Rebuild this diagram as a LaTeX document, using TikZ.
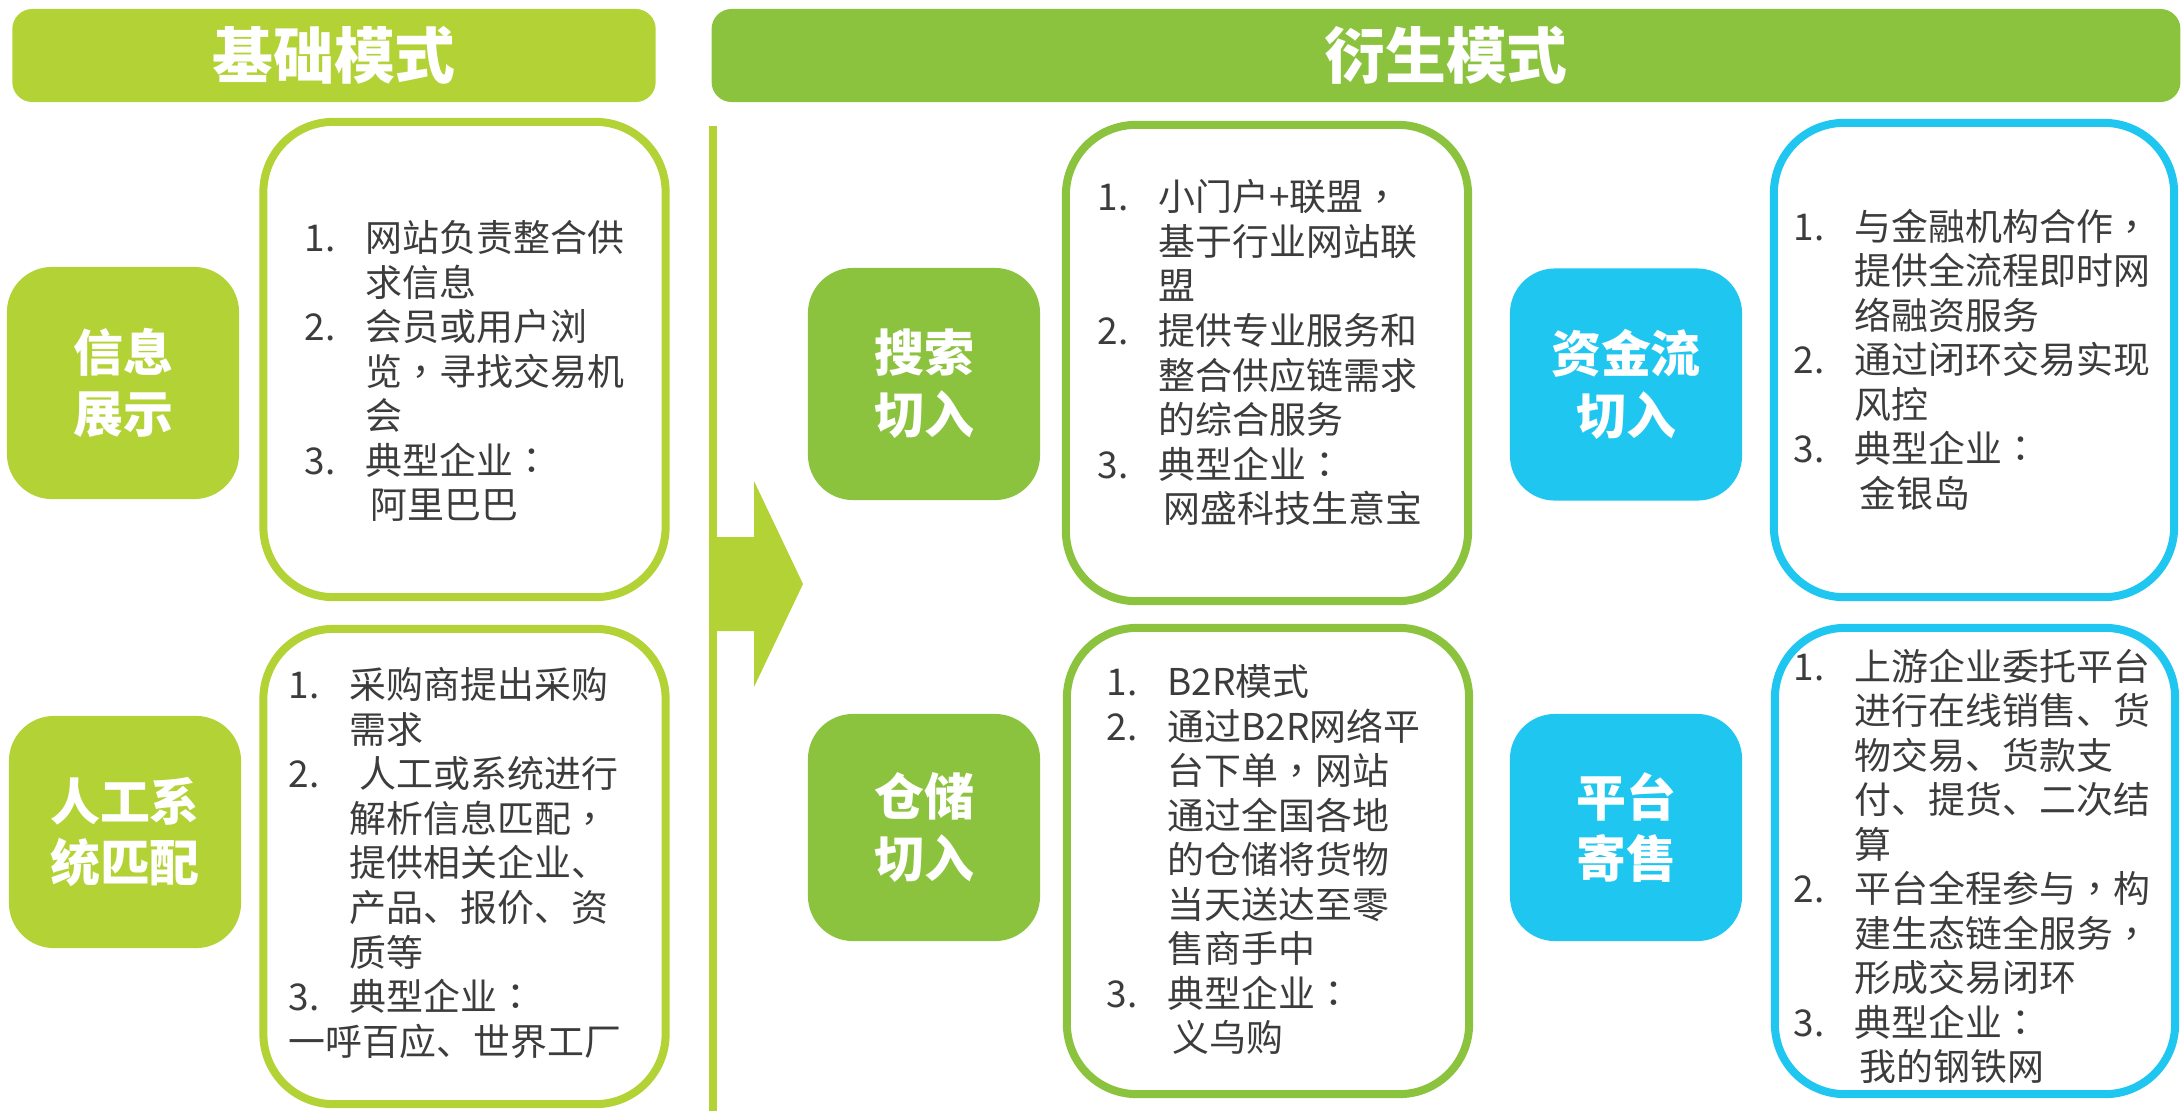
\documentclass[tikz,border=0pt]{standalone}
\usepackage{fontspec}
\setmainfont{Noto Sans CJK SC}
\newfontfamily\tcpunct{Noto Sans CJK TC}
\definecolor{yellowgreen}{HTML}{B2D235}
\definecolor{leafgreen}{HTML}{8BC33F}
\definecolor{skyblue}{HTML}{1FC6F0}
\definecolor{textgray}{HTML}{3C3C3C}
\newcommand{\itemno}[1]{\makebox[0.61cm][l]{#1}}
\newcommand{\goon}{\hspace*{0.61cm}}
\newcommand{\dou}{{\tcpunct ，}}
\newcommand{\mao}{{\tcpunct ：}}
\begin{document}
\begin{tikzpicture}[x=0.01cm, y=-0.01cm,
  head/.style={rounded corners=0.2cm, minimum height=0.93cm, text=white, font=\fontsize{17.3}{20}\selectfont\bfseries},
  modebox/.style={rounded corners=0.45cm, minimum width=2.32cm, minimum height=2.32cm, text=white, align=center, font=\fontsize{14.2}{17.6}\selectfont\bfseries},
  listframe/.style={draw=#1, line width=0.08cm, rounded corners=0.7cm, minimum width=4.02cm},
  list/.style={anchor=north west, inner sep=0pt, align=left, text=textgray, font=\fontsize{10.5}{12.66}\selectfont}]
\useasboundingbox (0,0) rectangle (2182,1111);
% headers
\node[head, fill=yellowgreen, minimum width=6.43cm] (base) at (334,55.5) {基础模式};
\node[head, fill=leafgreen, minimum width=14.68cm] (derived) at (1446,55.5) {衍生模式};
% divider and arrow
\draw[yellowgreen, line width=0.08cm] (713,126) -- (713,1111);
\fill[yellowgreen] (713,537) -- (754,537) -- (754,481) -- (803,584) -- (754,687) -- (754,631) -- (713,631) -- cycle;
% basic modes
\node[modebox, fill=yellowgreen] (info) at (123,383) {信息\\展示};
\node[modebox, fill=yellowgreen] (match) at (125,832) {人工系\\统匹配};
\node[listframe=yellowgreen, minimum height=4.75cm] (infoframe) at (464.5,359.5) {};
\node[listframe=yellowgreen, minimum height=4.75cm] (matchframe) at (464.5,866.5) {};
\node[list] (infotext) at (304,220) {\itemno{1.}网站负责整合供\\ \goon 求信息\\ \itemno{2.}会员或用户浏\\ \goon 览\dou 寻找交易机\\ \goon 会\\ \itemno{3.}典型企业\mao\\ \goon\hspace{0.05cm}阿里巴巴};
\node[list] (matchtext) at (288,667) {\itemno{1.}采购商提出采购\\ \goon 需求\\ \itemno{2.}\hspace{0.1cm}人工或系统进行\\ \goon 解析信息匹配\dou\\ \goon 提供相关企业、\\ \goon 产品、报价、资\\ \goon 质等\\ \itemno{3.}典型企业\mao\\ 一呼百应、世界工厂};
% derived modes, green
\node[modebox, fill=leafgreen] (search) at (924,384) {搜索\\切入};
\node[modebox, fill=leafgreen, minimum height=2.27cm] (store) at (924,827.5) {仓储\\切入};
\node[listframe=leafgreen, minimum height=4.76cm] (searchframe) at (1267,363) {};
\node[listframe=leafgreen, minimum height=4.66cm] (storeframe) at (1268,861) {};
\node[list] (searchtext) at (1097,179) {\itemno{1.}小门户+联盟\dou\\ \goon 基于行业网站联\\ \goon 盟\\ \itemno{2.}提供专业服务和\\ \goon 整合供应链需求\\ \goon 的综合服务\\ \itemno{3.}典型企业\mao\\ \goon\hspace{0.05cm}网盛科技生意宝};
\node[list] (storetext) at (1106,664) {\itemno{1.}B2R模式\\ \itemno{2.}通过B2R网络平\\ \goon 台下单\dou 网站\\ \goon 通过全国各地\\ \goon 的仓储将货物\\ \goon 当天送达至零\\ \goon 售商手中\\ \itemno{3.}典型企业\mao\\ \goon\hspace{0.05cm}义乌购};
% derived modes, blue
\node[modebox, fill=skyblue] (fund) at (1626,384.5) {资金流\\切入};
\node[modebox, fill=skyblue, minimum height=2.27cm] (consign) at (1626,827.5) {平台\\寄售};
\node[listframe=skyblue, minimum width=4.0cm, minimum height=4.74cm] (fundframe) at (1974,360) {};
\node[listframe=skyblue, minimum width=4.0cm, minimum height=4.66cm] (consignframe) at (1975,861) {};
\node[list] (fundtext) at (1793,208) {\itemno{1.}与金融机构合作\dou\\ \goon 提供全流程即时网\\ \goon 络融资服务\\ \itemno{2.}通过闭环交易实现\\ \goon 风控\\ \itemno{3.}典型企业\mao\\ \goon\hspace{0.05cm}金银岛};
\node[list] (consigntext) at (1793,648) {\itemno{1.}上游企业委托平台\\ \goon 进行在线销售、货\\ \goon 物交易、货款支\\ \goon 付、提货、二次结\\ \goon 算\\ \itemno{2.}平台全程参与\dou 构\\ \goon 建生态链全服务\dou\\ \goon 形成交易闭环\\ \itemno{3.}典型企业\mao\\ \goon\hspace{0.05cm}我的钢铁网};
\end{tikzpicture}
\end{document}
